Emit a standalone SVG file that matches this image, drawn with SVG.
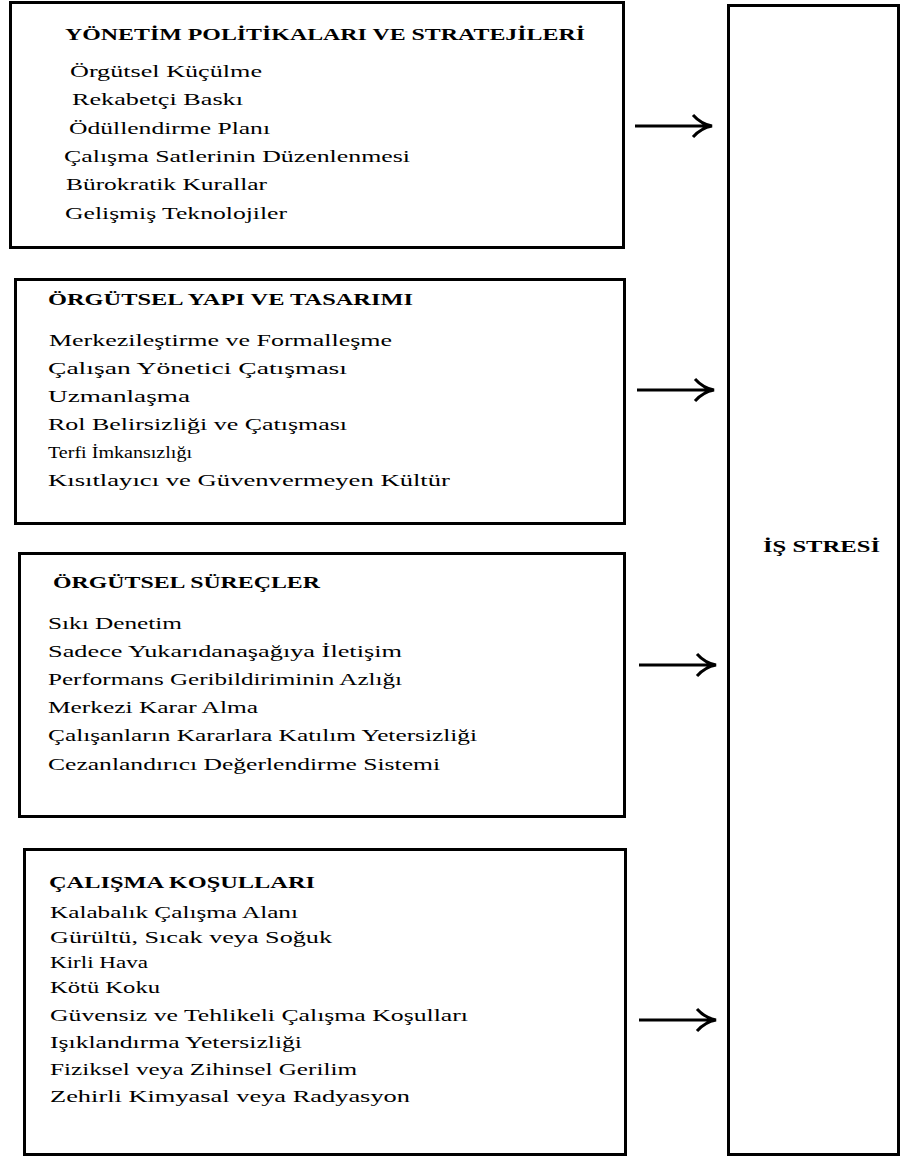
<svg xmlns="http://www.w3.org/2000/svg" width="905" height="1159" viewBox="0 0 905 1159">
<style>
.box{fill:#fff;stroke:#000;stroke-width:3}
.t{font-family:"Liberation Serif","Times New Roman",serif;font-size:17px;fill:#000;font-variant-ligatures:none;font-feature-settings:"liga" 0}
.h{font-weight:bold}
.arr{fill:none;stroke:#000;stroke-width:3;stroke-linecap:butt}
</style>
<rect width="905" height="1159" fill="#fff"/>
<g id="node-yonetim">
<rect class="box" x="10.5" y="2.5" width="613" height="245"/>
<text class="t h" x="65" y="40" textLength="520" lengthAdjust="spacingAndGlyphs">YÖNETİM POLİTİKALARI VE STRATEJİLERİ</text>
<text class="t" x="70" y="77" textLength="192" lengthAdjust="spacingAndGlyphs">Örgütsel Küçülme</text>
<text class="t" x="72" y="105" textLength="171" lengthAdjust="spacingAndGlyphs">Rekabetçi Baskı</text>
<text class="t" x="69" y="134" textLength="201" lengthAdjust="spacingAndGlyphs">Ödüllendirme Planı</text>
<text class="t" x="64" y="162" textLength="346" lengthAdjust="spacingAndGlyphs">Çalışma Satlerinin Düzenlenmesi</text>
<text class="t" x="66" y="190" textLength="201" lengthAdjust="spacingAndGlyphs">Bürokratik Kurallar</text>
<text class="t" x="65" y="219" textLength="222" lengthAdjust="spacingAndGlyphs">Gelişmiş Teknolojiler</text>
</g>
<g id="node-yapi">
<rect class="box" x="15.5" y="279.5" width="609" height="244"/>
<text class="t h" x="48" y="305" textLength="365" lengthAdjust="spacingAndGlyphs">ÖRGÜTSEL YAPI VE TASARIMI</text>
<text class="t" x="49" y="346" textLength="343" lengthAdjust="spacingAndGlyphs">Merkezileştirme ve Formalleşme</text>
<text class="t" x="48" y="374" textLength="299" lengthAdjust="spacingAndGlyphs">Çalışan Yönetici Çatışması</text>
<text class="t" x="48" y="402" textLength="142" lengthAdjust="spacingAndGlyphs">Uzmanlaşma</text>
<text class="t" x="48" y="430" textLength="299" lengthAdjust="spacingAndGlyphs">Rol Belirsizliği ve Çatışması</text>
<text class="t" x="48" y="458" textLength="144" lengthAdjust="spacingAndGlyphs"><tspan>Terf</tspan><tspan>i İmkansızlığı</tspan></text>
<text class="t" x="48" y="486" textLength="402" lengthAdjust="spacingAndGlyphs">Kısıtlayıcı ve Güvenvermeyen Kültür</text>
</g>
<g id="node-surecler">
<rect class="box" x="19.5" y="553.5" width="605" height="263"/>
<text class="t h" x="53" y="588" textLength="267" lengthAdjust="spacingAndGlyphs">ÖRGÜTSEL SÜREÇLER</text>
<text class="t" x="48" y="629" textLength="134" lengthAdjust="spacingAndGlyphs">Sıkı Denetim</text>
<text class="t" x="48" y="657" textLength="354" lengthAdjust="spacingAndGlyphs">Sadece Yukarıdanaşağıya İletişim</text>
<text class="t" x="48" y="685" textLength="354" lengthAdjust="spacingAndGlyphs">Performans Geribildiriminin Azlığı</text>
<text class="t" x="48" y="713" textLength="210" lengthAdjust="spacingAndGlyphs">Merkezi Karar Alma</text>
<text class="t" x="48" y="741" textLength="429" lengthAdjust="spacingAndGlyphs">Çalışanların Kararlara Katılım Yetersizliği</text>
<text class="t" x="48" y="770" textLength="392" lengthAdjust="spacingAndGlyphs">Cezanlandırıcı Değerlendirme Sistemi</text>
</g>
<g id="node-kosullar">
<rect class="box" x="24.5" y="849.5" width="601" height="305"/>
<text class="t h" x="49" y="888" textLength="266" lengthAdjust="spacingAndGlyphs">ÇALIŞMA KOŞULLARI</text>
<text class="t" x="50" y="918" textLength="248" lengthAdjust="spacingAndGlyphs">Kalabalık Çalışma Alanı</text>
<text class="t" x="50" y="943" textLength="282" lengthAdjust="spacingAndGlyphs">Gürültü, Sıcak veya Soğuk</text>
<text class="t" x="50" y="968" textLength="98" lengthAdjust="spacingAndGlyphs">Kirli Hava</text>
<text class="t" x="50" y="993" textLength="110" lengthAdjust="spacingAndGlyphs">Kötü Koku</text>
<text class="t" x="50" y="1021" textLength="418" lengthAdjust="spacingAndGlyphs">Güvensiz ve Tehlikeli Çalışma Koşulları</text>
<text class="t" x="50" y="1048" textLength="252" lengthAdjust="spacingAndGlyphs">Işıklandırma Yetersizliği</text>
<text class="t" x="50" y="1075" textLength="307" lengthAdjust="spacingAndGlyphs">Fiziksel veya Zihinsel Gerilim</text>
<text class="t" x="50" y="1102" textLength="360" lengthAdjust="spacingAndGlyphs">Zehirli Kimyasal veya Radyasyon</text>
</g>
<g id="node-isstresi">
<rect class="box" x="728.5" y="5.5" width="170" height="1149"/>
<text class="t h" x="763" y="552" textLength="117" lengthAdjust="spacingAndGlyphs">İŞ STRESİ</text>
</g>
<g id="connectors">
<path class="arr" d="M635,126 H711 M693,115 Q701,124 712,126 Q701,128 693,137"/>
<path class="arr" d="M637,390 H713 M695,379 Q703,388 714,390 Q703,392 695,401"/>
<path class="arr" d="M639,665 H715 M697,654 Q705,663 716,665 Q705,667 697,676"/>
<path class="arr" d="M639,1020 H715 M697,1009 Q705,1018 716,1020 Q705,1022 697,1031"/>
</g>
</svg>
